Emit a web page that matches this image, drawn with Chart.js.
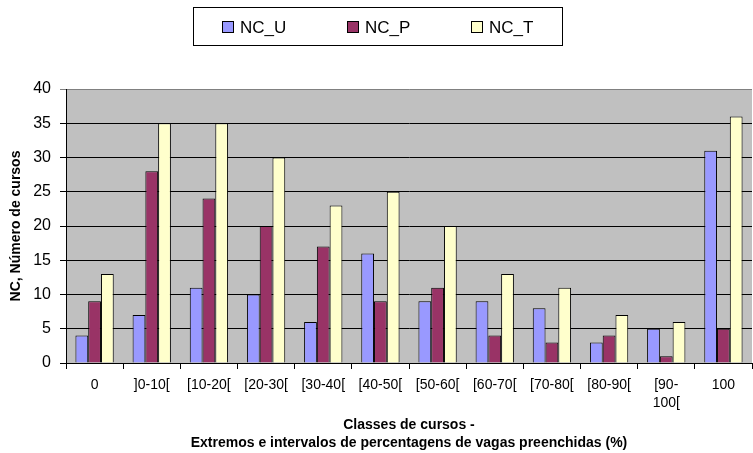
<!DOCTYPE html>
<html>
<head>
<meta charset="utf-8">
<script src="https://cdn.jsdelivr.net/npm/chart.js@4"></script>
<style>
html,body{margin:0;padding:0;background:#fff;}
#wrap{width:753px;height:453px;position:relative;}
</style>
</head>
<body>
<div id="wrap"><canvas id="c" width="753" height="453"></canvas></div>
<script>
const categories = ['0', ']0-10[', '[10-20[', '[20-30[', '[30-40[', '[40-50[', '[50-60[', '[60-70[', '[70-80[', '[80-90[', ['[90-', '100['], '100'];
const ncU = [4, 7, 11, 10, 6, 16, 9, 9, 8, 3, 5, 31];
const ncP = [9, 28, 24, 20, 17, 9, 11, 4, 3, 4, 1, 5];
const ncT = [13, 35, 35, 30, 23, 25, 20, 13, 11, 7, 6, 36];
const seriesNames = ['NC_U', 'NC_P', 'NC_T'];
const yTicks = [0, 5, 10, 15, 20, 25, 30, 35, 40];
const xTitle = ['Classes de cursos -', 'Extremos e intervalos de percentagens de vagas preenchidas (%)'];
const yTitle = 'NC, Número de cursos';

const FONT = "'Liberation Sans', Arial, sans-serif";

const bgPlugin = {
  id: 'plotBg',
  beforeDraw(chart) {
    const a = chart.chartArea, ctx = chart.ctx;
    ctx.save();
    ctx.fillStyle = '#C0C0C0';
    ctx.fillRect(a.left, a.top, a.right - a.left, a.bottom - a.top);
    ctx.restore();
  }
};

const legendPlugin = {
  id: 'boxLegend',
  afterDraw(chart) {
    const ctx = chart.ctx;
    ctx.save();
    ctx.strokeStyle = '#000';
    ctx.lineWidth = 1;
    ctx.strokeRect(193.5, 7.5, 369, 38);
    ctx.font = '17px ' + FONT;
    ctx.textBaseline = 'middle';
    ctx.textAlign = 'left';
    const startX = 222, stride = 124.5, cy = 27;
    chart.data.datasets.forEach((ds, i) => {
      const x = Math.round(startX + i * stride);
      ctx.fillStyle = ds.backgroundColor;
      ctx.fillRect(x + 0.5, cy - 5.5, 11, 11);
      ctx.strokeStyle = '#000';
      ctx.strokeRect(x + 0.5, cy - 5.5, 11, 11);
      ctx.fillStyle = '#000';
      ctx.fillText(ds.label, x + 18, cy + 1);
    });
    ctx.restore();
  }
};

new Chart(document.getElementById('c'), {
  type: 'bar',
  data: {
    labels: categories,
    datasets: [
      { label: seriesNames[0], data: ncU, backgroundColor: '#9999FF', borderColor: '#000', borderWidth: 1 },
      { label: seriesNames[1], data: ncP, backgroundColor: '#993366', borderColor: '#000', borderWidth: 1 },
      { label: seriesNames[2], data: ncT, backgroundColor: '#FFFFCC', borderColor: '#000', borderWidth: 1 }
    ]
  },
  options: {
    responsive: false,
    animation: false,
    devicePixelRatio: 1,
    layout: { padding: { top: 89, right: 1, left: 0, bottom: 0 } },
    datasets: { bar: { categoryPercentage: 0.67, barPercentage: 1.0 } },
    plugins: {
      legend: { display: false },
      tooltip: { enabled: false }
    },
    scales: {
      x: {
        grid: { display: true, drawOnChartArea: false, drawTicks: true, tickLength: 6, color: '#000', offset: true },
        border: { display: true, color: '#000' },
        ticks: { color: '#000', font: { family: FONT, size: 14, lineHeight: 1.3 }, maxRotation: 0, autoSkip: false, padding: 7 },
        title: { display: true, text: xTitle, color: '#000', font: { family: FONT, size: 14, weight: 'bold', lineHeight: 1.3 }, padding: { top: 10, bottom: 1 } },
        afterFit(scale) { scale.height = 90; }
      },
      y: {
        min: 0, max: 40,
        afterBuildTicks(scale) { scale.ticks = yTicks.map(v => ({ value: v })); },
        grid: {
          color: ctx => (ctx.tick && ctx.tick.value === 40) ? '#808080' : '#000',
          lineWidth: 1,
          tickLength: 6,
          drawTicks: true
        },
        border: { display: true, color: '#000' },
        ticks: { color: '#000', font: { family: FONT, size: 16 }, padding: 9 },
        title: { display: true, text: yTitle, color: '#000', font: { family: FONT, size: 14, weight: 'bold' }, padding: { top: 8, bottom: 0 } },
        afterFit(scale) { scale.width = 66; }
      }
    }
  },
  plugins: [bgPlugin, legendPlugin]
});
</script>
</body>
</html>
